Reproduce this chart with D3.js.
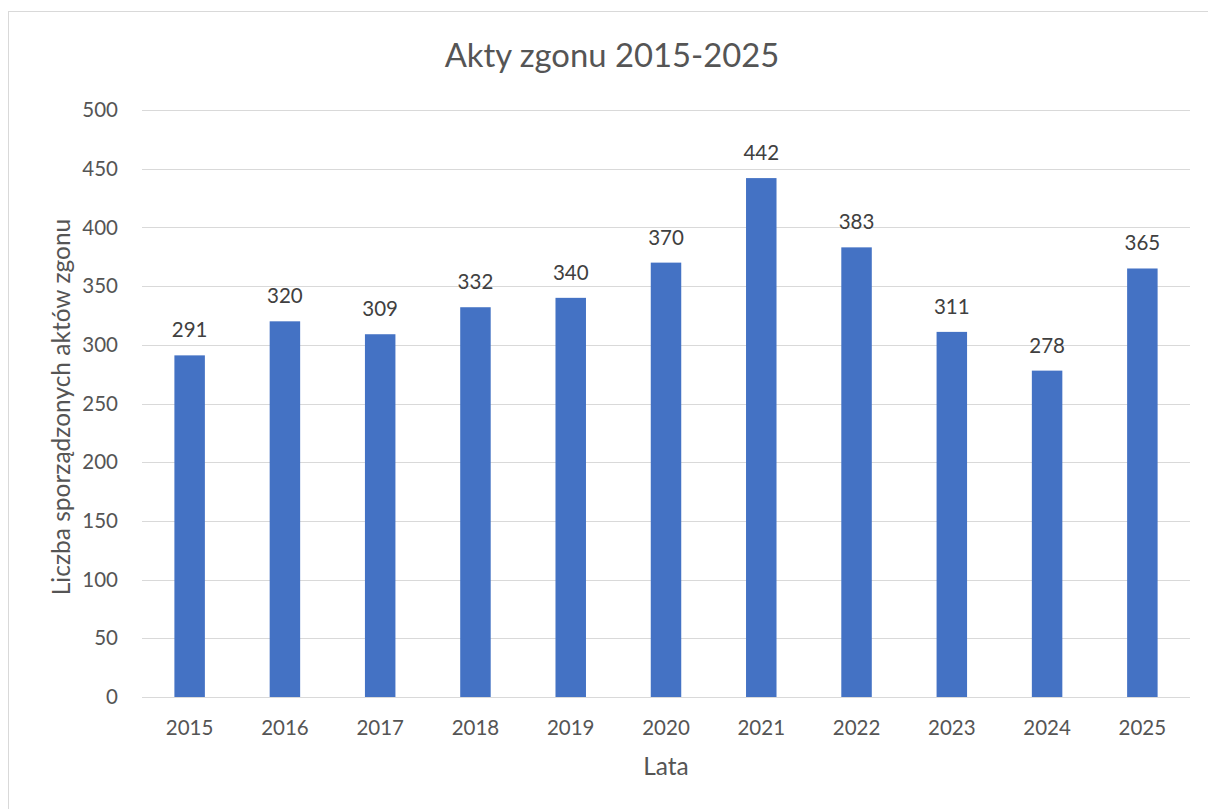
<!DOCTYPE html>
<html>
<head>
<meta charset="utf-8">
<script src="https://cdn.jsdelivr.net/npm/d3@7"></script>
<style>
  body { margin: 0; background: #fff; }
  text { font-family: Lato, "Open Sans", sans-serif; fill: #555; }
</style>
</head>
<body>
<svg id="chart"></svg>
<script>
// Data
const years = ["2015", "2016", "2017", "2018", "2019", "2020", "2021", "2022", "2023", "2024", "2025"];
const counts = [291, 320, 309, 332, 340, 370, 442, 383, 311, 278, 365];
const yTicks = [0, 50, 100, 150, 200, 250, 300, 350, 400, 450, 500];

const width = 1208, height = 809;
const svg = d3.select("#chart")
    .attr("width", width)
    .attr("height", height);

// Chart frame (light grey border, runs off the right/bottom edge)
svg.append("rect")
    .attr("x", 8.5).attr("y", 11.5)
    .attr("width", 1215).attr("height", 820)
    .attr("fill", "none")
    .attr("stroke", "#d9d9d9");

// Plot area
const plot = { left: 142, right: 1190, top: 110, bottom: 697 };

const x = d3.scaleBand()
    .domain(years)
    .range([plot.left, plot.right])
    .paddingInner(0.68)
    .paddingOuter(0.34);

const y = d3.scaleLinear()
    .domain([0, 500])
    .range([plot.bottom, plot.top]);

// Gridlines
svg.append("g")
    .selectAll("line")
    .data(yTicks)
    .join("line")
    .attr("x1", plot.left).attr("x2", plot.right)
    .attr("y1", d => Math.round(y(d)) + 0.5)
    .attr("y2", d => Math.round(y(d)) + 0.5)
    .attr("stroke", "#d9d9d9")
    .attr("stroke-width", 1);

// Y tick labels
svg.append("g")
    .selectAll("text")
    .data(yTicks)
    .join("text")
    .attr("x", 118)
    .attr("y", d => y(d))
    .attr("dy", "0.35em")
    .attr("text-anchor", "end")
    .attr("font-size", "20.5px")
    .text(d => d);

// Bars
svg.append("g")
    .selectAll("rect")
    .data(counts)
    .join("rect")
    .attr("x", (d, i) => x(years[i]))
    .attr("y", d => y(d))
    .attr("width", x.bandwidth())
    .attr("height", d => y(0) - y(d))
    .attr("fill", "#4472c4");

// Data labels
svg.append("g")
    .selectAll("text")
    .data(counts)
    .join("text")
    .attr("x", (d, i) => x(years[i]) + x.bandwidth() / 2)
    .attr("y", d => y(d) - 18)
    .attr("text-anchor", "middle")
    .attr("font-size", "20.5px")
    .style("fill", "#404040")
    .text(d => d);

// X tick labels
svg.append("g")
    .selectAll("text")
    .data(years)
    .join("text")
    .attr("x", d => x(d) + x.bandwidth() / 2)
    .attr("y", 735)
    .attr("text-anchor", "middle")
    .attr("font-size", "20.5px")
    .text(d => d);

// Title
svg.append("text")
    .attr("x", 612)
    .attr("y", 67)
    .attr("text-anchor", "middle")
    .attr("font-size", "32.8px")
    .text("Akty zgonu 2015-2025");

// Axis titles
svg.append("text")
    .attr("x", (plot.left + plot.right) / 2)
    .attr("y", 775)
    .attr("text-anchor", "middle")
    .attr("font-size", "24.5px")
    .text("Lata");

svg.append("text")
    .attr("transform", "translate(70, 407) rotate(-90)")
    .attr("text-anchor", "middle")
    .attr("font-size", "24.5px")
    .text("Liczba sporządzonych aktów zgonu");
</script>
</body>
</html>
